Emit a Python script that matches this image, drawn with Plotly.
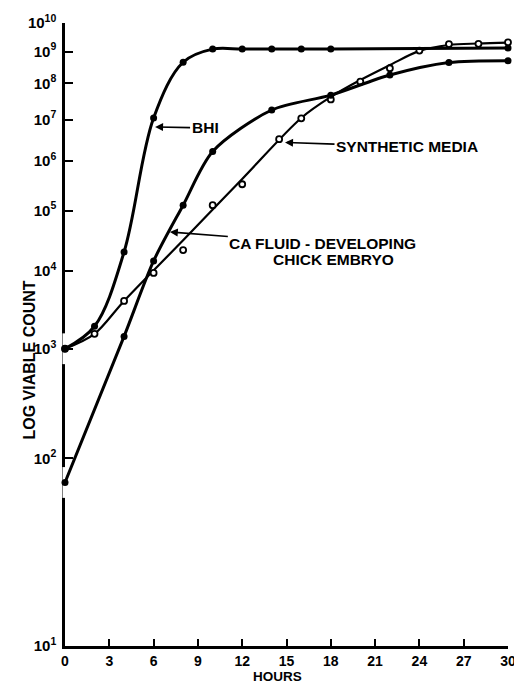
import math
import plotly.graph_objects as go

# Hours and log10 viable count (exponent)
bhi_hours = [0, 2, 4, 6, 8, 10, 12, 14, 16, 18, 30]
bhi_log = [3.0, 3.26, 4.29, 7.04, 8.65, 9.08, 9.08, 9.08, 9.08, 9.08, 9.12]

ca_hours = [0, 4, 6, 8, 10, 14, 18, 22, 26, 30]
ca_log = [1.83, 3.14, 4.15, 5.10, 6.22, 7.25, 7.66, 8.25, 8.64, 8.70]

# measured points for synthetic media
syn_hours = [0, 2, 4, 6, 8, 10, 12, 14.5, 16, 18, 20, 22, 24, 26, 28, 30]
syn_log = [3.0, 3.17, 3.58, 3.97, 4.32, 5.10, 5.51, 6.51, 7.03, 7.54, 8.05, 8.46, 9.03, 9.25, 9.26, 9.31]
# the hand-drawn synthetic media curve, read off the line itself
syn_curve_hours = [0, 2, 4, 8, 12, 16, 18, 20, 22, 24, 26, 28, 30]
syn_curve_log = [3.0, 3.17, 3.58, 4.48, 5.62, 7.04, 7.61, 8.10, 8.56, 9.02, 9.22, 9.27, 9.30]

hour_ticks = [0, 3, 6, 9, 12, 15, 18, 21, 24, 27, 30]
exp_ticks = [1, 2, 3, 4, 5, 6, 7, 8, 9, 10]
exp_labels = ["<b>10<sup>%d</sup></b>" % e for e in exp_ticks]

FONT = "Liberation Sans, Arial, sans-serif"

fig = go.Figure()

# white breaks in the y axis line around the starting points
fig.add_trace(go.Scatter(
    x=[bhi_hours[0], ca_hours[0]], y=[bhi_log[0], ca_log[0]],
    mode="markers",
    marker=dict(symbol="line-ns", size=22, color="white",
                line=dict(color="white", width=5)),
    cliponaxis=False, hoverinfo="skip", showlegend=False))

fig.add_trace(go.Scatter(
    x=syn_curve_hours, y=syn_curve_log, mode="lines", name="Synthetic media curve",
    line=dict(color="black", width=2.2, shape="spline", smoothing=0.9),
    cliponaxis=False, hoverinfo="skip"))

fig.add_trace(go.Scatter(
    x=syn_hours, y=syn_log, mode="markers", name="Synthetic media",
    marker=dict(color="white", size=6, line=dict(color="black", width=1.8)),
    cliponaxis=False))

fig.add_trace(go.Scatter(
    x=ca_hours, y=ca_log, mode="lines+markers", name="CA fluid",
    line=dict(color="black", width=3, shape="spline", smoothing=0.8),
    marker=dict(color="black", size=7), cliponaxis=False))

fig.add_trace(go.Scatter(
    x=bhi_hours, y=bhi_log, mode="lines+markers", name="BHI",
    line=dict(color="black", width=3, shape="spline", smoothing=1),
    marker=dict(color="black", size=7), cliponaxis=False))


def ann(text, x_h, y_e, ax, ay):
    return dict(x=x_h, y=math.log10(y_e), xref="x", yref="y",
                text="<b>%s</b>" % text, showarrow=True, ax=ax, ay=ay,
                arrowhead=2, arrowsize=1, arrowwidth=1.6, arrowcolor="black",
                font=dict(family=FONT, size=15.5, color="black"))


annotations = [
    ann("BHI", 6.1, 6.81, 50, 1),
    ann("SYNTHETIC MEDIA", 14.9, 6.43, 122, 4),
    ann("CA FLUID - DEVELOPING", 7.1, 4.62, 153, 12),
    dict(x=(333 - 65) / 443, y=(646 - 260) / 623, xref="paper", yref="paper",
         text="<b>CHICK EMBRYO</b>", showarrow=False,
         font=dict(family=FONT, size=15.5, color="black")),
    dict(x=(18 - 65) / 443, y=(646 - 360) / 623, xref="paper", yref="paper",
         text="<b>LOG VIABLE COUNT</b>", textangle=-90, showarrow=False,
         font=dict(family=FONT, size=16, color="black")),
    dict(x=(277 - 65) / 443, y=(646 - 676) / 623, xref="paper", yref="paper",
         yanchor="middle", text="<b>HOURS</b>", showarrow=False,
         font=dict(family=FONT, size=13.5, color="black")),
]

# the page body adds an 8 px margin, so the figure is 8 px smaller on each axis
fig.update_layout(
    width=514, height=676,
    margin=dict(l=57, r=14, t=15, b=38, autoexpand=False),
    paper_bgcolor="white", plot_bgcolor="white",
    showlegend=False,
    font=dict(family=FONT, color="black"),
    annotations=annotations,
    xaxis=dict(range=[0, 30], tickvals=hour_ticks,
               ticktext=["<b>%d</b>" % h for h in hour_ticks],
               showgrid=False, zeroline=False, showline=True, automargin=False,
               linecolor="black", linewidth=2.5, ticks="inside", ticklen=7,
               tickwidth=2, tickcolor="black", layer="below traces",
               tickfont=dict(family=FONT, size=14, color="black")),
    yaxis=dict(type="log", range=[0, 1], tickvals=exp_ticks, ticktext=exp_labels,
               showgrid=False, zeroline=False, showline=True, automargin=False,
               linecolor="black", linewidth=2.5, ticks="inside", ticklen=8,
               tickwidth=2, tickcolor="black", layer="below traces",
               tickfont=dict(family=FONT, size=15, color="black"),
               ticklabelstandoff=3),
)

fig.write_html("out.html")
